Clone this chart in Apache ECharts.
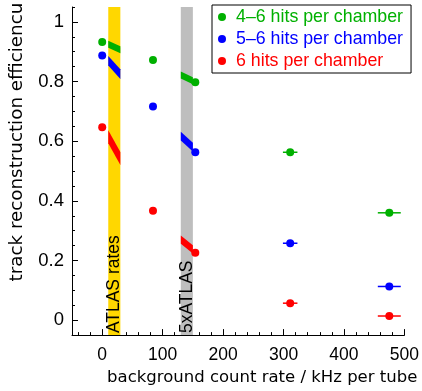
<!DOCTYPE html>
<html>
<head>
<meta charset="utf-8">
<script src="https://cdn.jsdelivr.net/npm/echarts@6/dist/echarts.min.js"></script>
<style>
html,body{margin:0;padding:0;background:#fff;}
#chart{width:422px;height:391px;}
</style>
</head>
<body>
<div id="chart"></div>
<script>
// ---- data ----
const seriesNames = ['4\u20136 hits per chamber', '5\u20136 hits per chamber', '6 hits per chamber'];
const rates = [0, 84, 154, 311, 475];
const rateErr = [0, 0, 0, 12, 19];
const eff46 = [0.933, 0.872, 0.798, 0.563, 0.360];
const eff56 = [0.887, 0.716, 0.563, 0.258, 0.113];
const eff6  = [0.647, 0.367, 0.226, 0.057, 0.014];

const bandStart = [10, 130];
const bandEnd = [30, 150];
const bandLabels = ['ATLAS rates', '5xATLAS'];

// efficiency curves inside the bands: [value at band start, value at band end]
const seg46 = [[0.925, 0.907], [0.822, 0.803]];
const seg56 = [[0.870, 0.825], [0.617, 0.580]];
const seg6  = [[0.615, 0.542], [0.270, 0.237]];

const xTicks = [0, 100, 200, 300, 400, 500];
const yTicks = [0, 0.2, 0.4, 0.6, 0.8, 1];
const xMin = -50, xMax = 500, yMin = -0.05, yMax = 1.05;
const xMinorStep = 20, yMinorStep = 0.05;

// ---- styles ----
const colors = ['#00b000', '#0000ff', '#ff0000'];
const bandColors = ['#ffd700', '#bebebe'];
const TICK_FONT = 'Liberation Sans';
const NAME_FONT = 'DejaVu Sans';

const xMinor = [];
for (let v = -40; v <= xMax + 1e-9; v += xMinorStep) xMinor.push(Math.round(v));
const yMinor = [];
for (let v = -0.05; v <= yMax + 1e-9; v += yMinorStep) yMinor.push(Math.round(v * 100) / 100);

const effs = [eff46, eff56, eff6];
const segs = [seg46, seg56, seg6];

const chart = echarts.init(document.getElementById('chart'), null, {renderer: 'canvas'});

const bandData = bandStart.map((s, i) => [s, bandEnd[i], i]);

const series = [];
series.push({
  type: 'custom',
  name: 'bands',
  xAxisIndex: 0, yAxisIndex: 0,
  z: 1,
  silent: true,
  data: bandData,
  encode: {x: [0, 1]},
  renderItem: function (params, api) {
    const cs = params.coordSys;
    const a = api.coord([api.value(0), yMin]);
    const b = api.coord([api.value(1), yMin]);
    const idx = api.value(2);
    return {
      type: 'group',
      children: [
        {type: 'rect', shape: {x: a[0], y: cs.y, width: b[0] - a[0], height: cs.height},
         style: {fill: bandColors[idx]}},
        {type: 'text', x: (a[0] + b[0]) / 2, y: cs.y + cs.height - 2, rotation: Math.PI / 2,
         style: {text: bandLabels[idx], fill: '#000', font: '17.5px "Liberation Sans"',
                 textAlign: 'left', textVerticalAlign: 'middle'}}
      ]
    };
  }
});

effs.forEach((eff, k) => {
  // efficiency segment inside bands
  const segData = segs[k].map((s, i) => [bandStart[i], s[0], bandEnd[i], s[1]]);
  series.push({
    type: 'custom',
    name: 'seg' + k,
    xAxisIndex: 0, yAxisIndex: 0,
    z: 2,
    silent: true,
    data: segData,
    encode: {x: [0, 2], y: [1, 3]},
    renderItem: function (params, api) {
      const p1 = api.coord([api.value(0), api.value(1)]);
      const p2 = api.coord([api.value(2), api.value(3)]);
      const m = (p2[1] - p1[1]) / (p2[0] - p1[0]);
      const h = 3.2 * Math.sqrt(1 + m * m);
      return {
        type: 'polygon',
        shape: {points: [[p1[0], p1[1] - h], [p2[0], p2[1] - h], [p2[0], p2[1] + h], [p1[0], p1[1] + h]]},
        style: {fill: colors[k]}
      };
    }
  });
  // horizontal error bars
  series.push({
    type: 'custom',
    name: 'err' + k,
    xAxisIndex: 0, yAxisIndex: 0,
    z: 3,
    silent: true,
    data: rates.map((r, i) => [r, eff[i], rateErr[i]]),
    encode: {x: 0, y: 1},
    renderItem: function (params, api) {
      const e = api.value(2);
      if (!e) return null;
      const a = api.coord([api.value(0) - e, api.value(1)]);
      const b = api.coord([api.value(0) + e, api.value(1)]);
      return {type: 'line', shape: {x1: a[0], y1: a[1], x2: b[0], y2: b[1]},
              style: {stroke: colors[k], lineWidth: 1.5}};
    }
  });
  series.push({
    type: 'scatter',
    name: seriesNames[k],
    xAxisIndex: 0, yAxisIndex: 0,
    z: 4,
    symbol: 'circle',
    symbolSize: 8,
    itemStyle: {color: colors[k], opacity: 1},
    data: rates.map((r, i) => [r, eff[i]])
  });
});

const option = {
  animation: false,
  backgroundColor: '#fff',
  grid: {left: 70, right: 16, top: 7, bottom: 48, containLabel: false},
  legend: {
    orient: 'vertical',
    left: 212, top: 5,
    padding: [3, 8, 3, 6],
    itemGap: 4,
    itemWidth: 8, itemHeight: 8,
    backgroundColor: '#fff',
    borderColor: '#000', borderWidth: 1, borderRadius: 0,
    data: seriesNames.map((n, k) => ({name: n, icon: 'circle',
      textStyle: {color: colors[k]}})),
    textStyle: {fontFamily: TICK_FONT, fontSize: 17.8, lineHeight: 18, padding: [0, 0, 0, 5]}
  },
  xAxis: [
    {
      type: 'value', min: xMin, max: xMax, position: 'bottom',
      name: 'background count rate / kHz per tube',
      nameLocation: 'middle', nameGap: 31,
      nameTextStyle: {fontFamily: NAME_FONT, fontSize: 16.5, color: '#000', padding: [0, 0, 0, 48]},
      axisLine: {onZero: false, lineStyle: {color: '#000', width: 1}},
      axisTick: {inside: true, length: 6, customValues: xTicks, lineStyle: {color: '#000'}},
      axisLabel: {customValues: xTicks, margin: 11, color: '#000', fontFamily: TICK_FONT, fontSize: 17.5},
      splitLine: {show: false}
    },
    {
      type: 'value', min: xMin, max: xMax, position: 'bottom',
      axisLine: {show: false, onZero: false},
      axisTick: {inside: true, length: 3, customValues: xMinor, lineStyle: {color: '#000'}},
      axisLabel: {show: false},
      splitLine: {show: false}
    }
  ],
  yAxis: [
    {
      type: 'value', min: yMin, max: yMax, position: 'left',
      name: 'track reconstruction efficiencu',
      nameLocation: 'middle', nameRotate: 90, nameGap: 46,
      nameTextStyle: {fontFamily: NAME_FONT, fontSize: 18.3, color: '#000', padding: [0, 0, 0, 58]},
      axisLine: {onZero: false, lineStyle: {color: '#000', width: 1}},
      axisTick: {inside: true, length: 6, customValues: yTicks, lineStyle: {color: '#000'}},
      axisLabel: {customValues: yTicks, margin: 8, color: '#000', fontFamily: TICK_FONT, fontSize: 18.5,
                  formatter: v => String(Math.round(v * 10) / 10)},
      splitLine: {show: false}
    },
    {
      type: 'value', min: yMin, max: yMax, position: 'left',
      axisLine: {show: false, onZero: false},
      axisTick: {inside: true, length: 3, customValues: yMinor, lineStyle: {color: '#000'}},
      axisLabel: {show: false},
      splitLine: {show: false}
    }
  ],
  series: series
};
chart.setOption(option);
</script>
</body>
</html>
